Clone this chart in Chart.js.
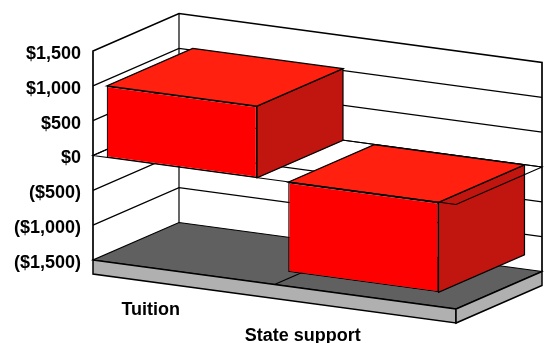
<!DOCTYPE html>
<html>
<head>
<meta charset="utf-8">
<title>Tuition and State support</title>
<script src="https://cdn.jsdelivr.net/npm/chart.js@4"></script>
<style>
  html, body { margin: 0; background: #fff; }
  canvas { display: block; }
</style>
</head>
<body>
<canvas id="myChart" width="544" height="343"></canvas>
<script>
const categories = ['Tuition', 'State support'];
const amounts = [1030, -1290];
const tickValues = [-1500, -1000, -500, 0, 500, 1000, 1500];
const tickLabels = ['($1,500)', '($1,000)', '($500)', '$0', '$500', '$1,000', '$1,500'];

// box projection: the front plane shears down to the right, depth runs up and to the right
const SHEAR = 49 / 363;
const DEPTH_X = 86;
const DEPTH_Y = -37.5;
const SLAB = 14;
const BAR_SHIFT = -1.9;
const LABEL_FONT = 'bold 18px "Liberation Sans", Arial, sans-serif';

function path(ctx, points, fill, lineWidth) {
  ctx.beginPath();
  points.forEach((p, i) => i ? ctx.lineTo(p[0], p[1]) : ctx.moveTo(p[0], p[1]));
  if (fill) {
    ctx.closePath();
    ctx.fillStyle = fill;
    ctx.fill();
  }
  ctx.lineWidth = lineWidth || 1.2;
  ctx.strokeStyle = '#000';
  ctx.stroke();
}

const box3d = {
  id: 'box3d',
  beforeDatasetsDraw(chart) {
    const ctx = chart.ctx;
    const { x: xScale, y: yScale } = chart.scales;
    const left = xScale.left;
    const right = xScale.right;
    // d is the depth from 0 (front) to 1 (back)
    const pt = (px, py, d) => [px + d * DEPTH_X, py + (px - left) * SHEAR + d * DEPTH_Y];

    const top = yScale.getPixelForValue(tickValues[tickValues.length - 1]);
    const bottom = yScale.getPixelForValue(tickValues[0]);

    // grid lines along the side wall and the back wall
    tickValues.slice(1, -1).forEach(v => {
      const py = yScale.getPixelForValue(v);
      path(ctx, [pt(left, py, 0), pt(left, py, 1), pt(right, py, 1)]);
    });

    // floor with its slab
    path(ctx, [pt(left, bottom, 0), pt(right, bottom, 0), pt(right, bottom, 1), pt(left, bottom, 1)], '#606060');
    path(ctx, [pt(left, bottom, 0), pt(right, bottom, 0), pt(right, bottom + SLAB, 0), pt(left, bottom + SLAB, 0)], '#b0b0b0', 1.5);
    path(ctx, [pt(right, bottom, 0), pt(right, bottom, 1), pt(right, bottom + SLAB, 1), pt(right, bottom + SLAB, 0)], '#b0b0b0', 1.5);
    const mid = (left + right) / 2;
    path(ctx, [pt(mid, bottom, 0), pt(mid, bottom, 1)]);

    // outer frame of the walls
    path(ctx, [pt(left, bottom, 0), pt(left, top, 0), pt(left, top, 1), pt(right, top, 1), pt(right, bottom, 1)], null, 1.7);
    path(ctx, [pt(left, top, 1), pt(left, bottom, 1)]);

    // top and side faces of the bars, the front faces come from the library
    const zero = yScale.getPixelForValue(0);
    const bars = chart.getDatasetMeta(0).data;
    const sides = (el) => {
      const x0 = el.x - el.width / 2;
      const x1 = el.x + el.width / 2;
      const hi = Math.min(el.y, el.base);
      const lo = Math.max(el.y, el.base);
      const at = (px, py, d) => {
        const p = pt(px, py, d);
        return [p[0] + BAR_SHIFT, p[1]];
      };
      path(ctx, [at(x1, hi, 0), at(x1, lo, 0), at(x1, lo, 1), at(x1, hi, 1)], '#c11510');
      path(ctx, [at(x0, hi, 0), at(x1, hi, 0), at(x1, hi, 1), at(x0, hi, 1)], '#ff2010');
    };

    sides(bars[1]);
    // the zero plane outline passes in front of the lower bar
    path(ctx, [pt(left, zero, 1), pt(left, zero, 0), pt(right, zero, 0), pt(right, zero, 1), pt(left, zero, 1)]);
    sides(bars[0]);

    // shear the library's own bar rectangles into the front plane
    ctx.save();
    ctx.transform(1, SHEAR, 0, 1, BAR_SHIFT, -left * SHEAR);
  },
  afterDatasetsDraw(chart) {
    chart.ctx.restore();
  },
  afterDraw(chart) {
    const ctx = chart.ctx;
    const xScale = chart.scales.x;
    const offsets = [[-33, 38], [-62.5, 39]];
    ctx.save();
    ctx.font = LABEL_FONT;
    ctx.fillStyle = '#000';
    ctx.textAlign = 'center';
    ctx.textBaseline = 'middle';
    categories.forEach((name, i) => {
      const px = xScale.getPixelForTick(i);
      const py = xScale.bottom + (px - xScale.left) * SHEAR;
      ctx.fillText(name, px + offsets[i][0], py + offsets[i][1]);
    });
    ctx.restore();
  }
};

new Chart(document.getElementById('myChart'), {
  type: 'bar',
  data: {
    labels: categories,
    datasets: [{
      data: amounts,
      backgroundColor: '#ff0000',
      borderColor: '#000',
      borderWidth: 1.2,
      borderSkipped: false,
      categoryPercentage: 1,
      barPercentage: 0.828,
      clip: false
    }]
  },
  options: {
    responsive: false,
    animation: false,
    layout: { padding: { left: 0, top: 51, right: 88, bottom: 83 } },
    plugins: { legend: { display: false }, tooltip: { enabled: false } },
    scales: {
      x: { display: false },
      y: {
        min: tickValues[0],
        max: tickValues[tickValues.length - 1],
        grid: { display: false, drawTicks: false },
        border: { display: false },
        afterFit(scale) { scale.width = 93; },
        ticks: {
          stepSize: 500,
          autoSkip: false,
          padding: 12,
          labelOffset: 3,
          color: '#000',
          font: { family: '"Liberation Sans", Arial, sans-serif', size: 18, weight: 'bold' },
          callback: value => tickLabels[tickValues.indexOf(value)]
        }
      }
    }
  },
  plugins: [box3d]
});
</script>
</body>
</html>
